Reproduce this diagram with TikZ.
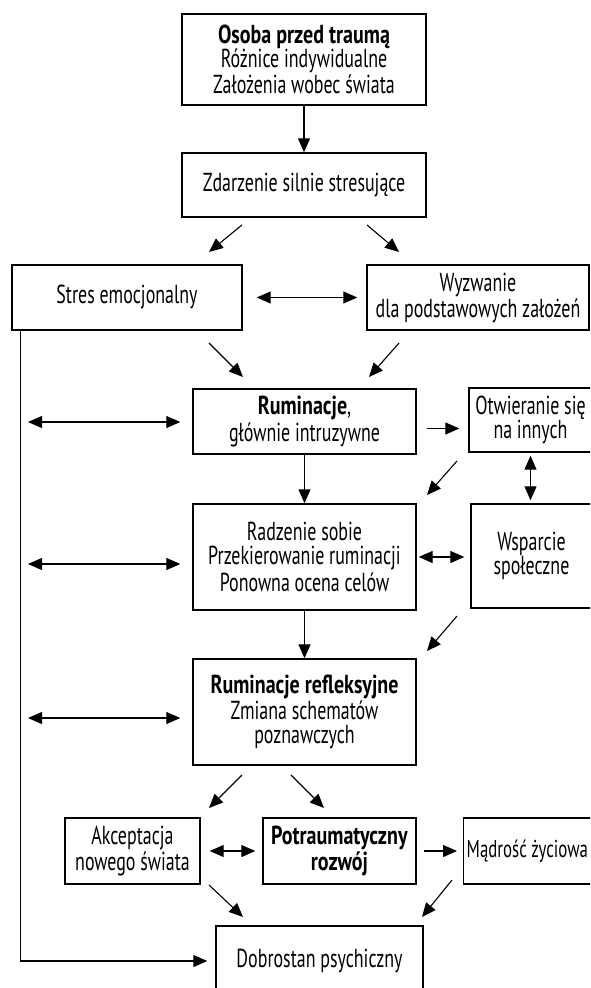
\documentclass[tikz,border=0pt]{standalone}
\usepackage{fontspec}
\setmainfont[FakeStretch=0.69,BoldFeatures={FakeStretch=0.77}]{PT Sans}
\usetikzlibrary{arrows.meta,calc}
\tikzset{
  kasten/.style={draw,line width=0.7pt,align=center,inner sep=1pt,font=\fontsize{13}{12}\selectfont},
  pf/.style={-{Triangle[length=7pt,width=6pt]},line width=0.55pt},
  dpf/.style={{Triangle[length=7pt,width=6pt]}-{Triangle[length=7pt,width=6pt]},line width=0.55pt},
}

\begin{document}
\begin{tikzpicture}[x=0.5pt,y=-0.5pt]
  \useasboundingbox (0,0) rectangle (590,988);
  \clip (0,0) rectangle (590,988);
  % Kaesten
  \node[kasten,minimum width=122pt,minimum height=45.5pt] (osoba) at (304,59.5)
    {\textbf{Osoba przed traumą}\\Różnice indywidualne\\Założenia wobec świata};
  \node[kasten,minimum width=122pt,minimum height=32pt] (zdarz) at (304,185)
    {Zdarzenie silnie stresujące};
  \node[kasten,minimum width=115pt,minimum height=32.5pt] (stres) at (127,297.5)
    {Stres emocjonalny};
  \node[kasten,minimum width=111pt,minimum height=32.5pt] (wyzw) at (478,297.5)
    {Wyzwanie\\dla podstawowych założeń};
  \node[kasten,minimum width=111.5pt,minimum height=32.5pt] (rum) at (304.5,421.5)
    {\textbf{Ruminacje},\\głównie intruzywne};
  \node[kasten,minimum width=61.5pt,minimum height=32pt] (otw) at (530.5,420)
    {Otwieranie się\\na innych};
  \node[kasten,minimum width=111.5pt,minimum height=53pt] (radz) at (304.5,557)
    {Radzenie sobie\\Przekierowanie ruminacji\\Ponowna ocena celów};
  \node[kasten,minimum width=60.5pt,minimum height=52pt] (wsp) at (531.5,556)
    {Wsparcie\\społeczne};
  \node[kasten,minimum width=111.5pt,minimum height=53pt] (rr) at (304.5,712)
    {\textbf{Ruminacje refleksyjne}\\Zmiana schematów\\poznawczych};
  \node[kasten,minimum width=67.5pt,minimum height=33pt] (akc) at (132.5,851)
    {Akceptacja\\nowego świata};
  \node[kasten,minimum width=76.5pt,minimum height=33pt] (potr) at (339.5,851)
    {\textbf{Potraumatyczny}\\\textbf{rozwój}};
  \node[kasten,anchor=west,text width=75pt,align=flush left,inner xsep=1.5pt,minimum height=33pt,
        font=\fontsize{12.2}{12}\selectfont] (madr) at (463,851)
    {Mądrość życiowa};
  \node[kasten,minimum width=103.5pt,minimum height=35pt] (dobro) at (319.5,961)
    {Dobrostan psychiczny};
  % freie Pfeilenden
  \coordinate (d1a) at (242,225); \coordinate (d1b) at (209,252);
  \coordinate (d2a) at (367,225); \coordinate (d2b) at (399,252);
  \coordinate (d3a) at (209,343); \coordinate (d3b) at (243,377);
  \coordinate (d4a) at (399,343); \coordinate (d4b) at (369,377);
  \coordinate (d5a) at (457,461); \coordinate (d5b) at (427,495);
  \coordinate (d6a) at (457,616); \coordinate (d6b) at (427,651);
  \coordinate (d7a) at (242,775); \coordinate (d7b) at (209,808);
  \coordinate (d8a) at (291,775); \coordinate (d8b) at (324,808);
  \coordinate (d9a) at (209,885); \coordinate (d9b) at (243,917);
  \coordinate (d10a) at (452,880); \coordinate (d10b) at (422,917);
  \coordinate (l1) at (28,422);
  \coordinate (l2) at (28,564);
  \coordinate (l3) at (28,718);
  % Pfeile
  \draw[pf] (osoba) -- (zdarz);
  \foreach \i in {1,...,10}
    \draw[pf] (d\i a) -- (d\i b);
  \draw[dpf,shorten <=7pt,shorten >=4.5pt] (stres) -- (wyzw);
  \draw[dpf,shorten >=6pt] (l1) -- (l1 -| rum.west);
  \draw[dpf,shorten >=6pt] (l2) -- (l2 -| radz.west);
  \draw[dpf,shorten >=6pt] (l3) -- (l3 -| rr.west);
  \draw[pf,shorten <=5pt,shorten >=4.5pt] ([yshift=-3.5pt]rum.east) -- ([yshift=-3.5pt]rum.east -| otw.west);
  \draw[dpf,shorten <=1.5pt,shorten >=1.5pt] (otw.south) -- (otw.south |- wsp.north);
  \draw[pf] (rum) -- (radz);
  \draw[dpf,shorten <=1pt,shorten >=3pt] (radz.east) -- (radz.east -| wsp.west);
  \draw[pf] (radz) -- (rr);
  \draw[dpf,shorten <=4.5pt,shorten >=3.5pt] (akc.east) -- (akc.east -| potr.west);
  \draw[pf,shorten <=3.5pt,shorten >=3pt] (potr.east) -- (potr.east -| madr.west);
  \draw[pf,shorten >=4pt] ([xshift=4.5pt]stres.south west) |- (dobro.west);
\end{tikzpicture}
\end{document}
